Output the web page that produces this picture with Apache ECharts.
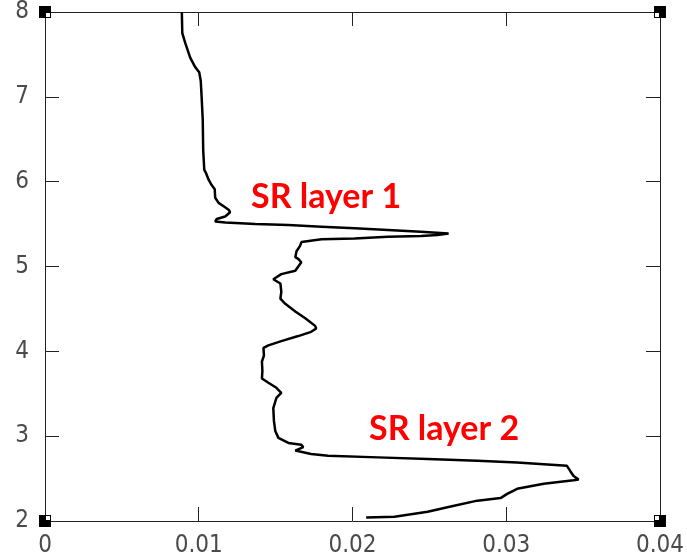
<!DOCTYPE html>
<html>
<head>
<meta charset="utf-8">
<script src="https://cdn.jsdelivr.net/npm/echarts@6/dist/echarts.min.js"></script>
<style>
  html, body { margin: 0; padding: 0; background: #fff; }
  #chart { width: 687px; height: 558px; }
</style>
</head>
<body>
<div id="chart"></div>
<script>
// Scattering-ratio profile: value (x) against altitude in km (y)
const xTicks = [0, 0.01, 0.02, 0.03, 0.04];
const yTicks = [2, 3, 4, 5, 6, 7, 8];

const ratio = [
  0.00890, 0.00893, 0.00913, 0.00945, 0.00977, 0.01003, 0.01013, 0.01019, 0.01026, 0.01029,
  0.01036, 0.01045, 0.01065, 0.01084, 0.01104, 0.01107, 0.01129, 0.01162, 0.01194, 0.01204,
  0.01172, 0.01117, 0.01107, 0.01173, 0.01367, 0.01583, 0.01798, 0.02014, 0.02230, 0.02445,
  0.02625, 0.02553, 0.02445, 0.02230, 0.02014, 0.01798, 0.01669, 0.01658, 0.01636, 0.01628,
  0.01647, 0.01667, 0.01628, 0.01537, 0.01485, 0.01531, 0.01537, 0.01531, 0.01563, 0.01628,
  0.01693, 0.01757, 0.01764, 0.01731, 0.01647, 0.01537, 0.01453, 0.01421, 0.01424, 0.01411,
  0.01414, 0.01411, 0.01453, 0.01505, 0.01537, 0.01505, 0.01485, 0.01489, 0.01498, 0.01518,
  0.01583, 0.01667, 0.01680, 0.01628, 0.01731, 0.01841, 0.02165, 0.02489, 0.02812, 0.03071,
  0.03244, 0.03395, 0.03416, 0.03438, 0.03471, 0.03438, 0.03244, 0.03071, 0.03006, 0.02963,
  0.02812, 0.02639, 0.02489, 0.02273, 0.02089
];
const altitude = [
  8.00, 7.75, 7.63, 7.46, 7.35, 7.29, 7.19, 6.99, 6.73, 6.37,
  6.14, 6.11, 6.02, 5.96, 5.91, 5.81, 5.75, 5.71, 5.67, 5.64,
  5.59, 5.56, 5.53, 5.52, 5.50, 5.49, 5.47, 5.45, 5.43, 5.41,
  5.39, 5.37, 5.36, 5.35, 5.33, 5.32, 5.29, 5.24, 5.18, 5.11,
  5.09, 5.05, 4.95, 4.91, 4.85, 4.80, 4.70, 4.62, 4.56, 4.47,
  4.39, 4.30, 4.27, 4.23, 4.18, 4.12, 4.07, 4.04, 3.95, 3.88,
  3.77, 3.68, 3.63, 3.57, 3.51, 3.45, 3.33, 3.18, 3.06, 2.98,
  2.92, 2.90, 2.87, 2.83, 2.79, 2.77, 2.75, 2.73, 2.71, 2.69,
  2.67, 2.65, 2.59, 2.53, 2.49, 2.48, 2.44, 2.38, 2.32, 2.27,
  2.24, 2.17, 2.11, 2.05, 2.04
];

const layerLabels = ['SR layer 1', 'SR layer 2'];
const headerText = '0121121212000110110101';

const chart = echarts.init(document.getElementById('chart'), null, { renderer: 'canvas' });

const axisFont = "'Liberation Sans Narrow', 'DejaVu Sans Condensed', 'Liberation Sans', sans-serif";
const axisColor = '#222';
const tickLen = 14;

function baseX(extra) {
  return Object.assign({
    type: 'value',
    min: xTicks[0],
    max: xTicks[xTicks.length - 1],
    interval: 0.01,
    splitLine: { show: false },
    axisLine: { show: true, onZero: false, lineStyle: { color: axisColor, width: 1 } },
    axisTick: { show: true, inside: true, length: tickLen, lineStyle: { color: axisColor, width: 1 } }
  }, extra);
}
function baseY(extra) {
  return Object.assign({
    type: 'value',
    min: yTicks[0],
    max: yTicks[yTicks.length - 1],
    interval: 1,
    splitLine: { show: false },
    axisLine: { show: true, onZero: false, lineStyle: { color: axisColor, width: 1 } },
    axisTick: { show: true, inside: true, length: tickLen, lineStyle: { color: axisColor, width: 1 } }
  }, extra);
}

const labelStyle = { color: '#4a4a4a', fontFamily: axisFont, fontSize: 24 };

chart.setOption({
  animation: false,
  backgroundColor: '#fff',
  grid: { left: 45, right: 24, top: 11, bottom: 34, containLabel: false },
  xAxis: [
    baseX({ position: 'bottom', axisLabel: Object.assign({ margin: 13, formatter: v => String(v) }, labelStyle) }),
    baseX({ position: 'top', axisLabel: { show: false } })
  ],
  yAxis: [
    baseY({ position: 'left', axisLabel: Object.assign({ margin: 16 }, labelStyle) }),
    baseY({ position: 'right', axisLabel: { show: false } })
  ],
  series: [{
    type: 'line',
    xAxisIndex: 0,
    yAxisIndex: 0,
    data: ratio.map((v, i) => [v, altitude[i]]),
    showSymbol: false,
    smooth: false,
    lineStyle: { color: '#000', width: 2.5 }
  }]
});

// Corner markers and overlaid text
function decorate() {
  const g = [];
  const corners = [
    [xTicks[0], yTicks[yTicks.length - 1], 1, 1],
    [xTicks[xTicks.length - 1], yTicks[yTicks.length - 1], -1, 1],
    [xTicks[0], yTicks[0], 1, -1],
    [xTicks[xTicks.length - 1], yTicks[0], -1, -1]
  ];
  corners.forEach(([cx, cy, dx, dy]) => {
    const p = chart.convertToPixel({ xAxisIndex: 0, yAxisIndex: 0 }, [cx, cy]);
    g.push({ type: 'rect', shape: { x: p[0] - 6, y: p[1] - 6, width: 12, height: 12 }, style: { fill: '#000' }, z: 10 });
    g.push({ type: 'rect', shape: { x: dx > 0 ? p[0] + 1 : p[0] - 5, y: dy > 0 ? p[1] + 1 : p[1] - 5, width: 4, height: 4 }, style: { fill: '#fff' }, z: 11 });
  });
  g.push({
    type: 'text', left: 222, top: -18,
    style: { text: headerText, font: "24px " + axisFont, fill: '#333' }, z: 5
  });
  const redFont = "bold 34px Lato, 'Open Sans', sans-serif";
  g.push({ type: 'text', x: 251, y: 197, style: { text: layerLabels[0], font: redFont, fill: '#ff0000', textVerticalAlign: 'middle' }, z: 12 });
  g.push({ type: 'text', x: 369, y: 429, style: { text: layerLabels[1], font: redFont, fill: '#ff0000', textVerticalAlign: 'middle' }, z: 12 });
  chart.setOption({ graphic: g });
}
decorate();
</script>
</body>
</html>
